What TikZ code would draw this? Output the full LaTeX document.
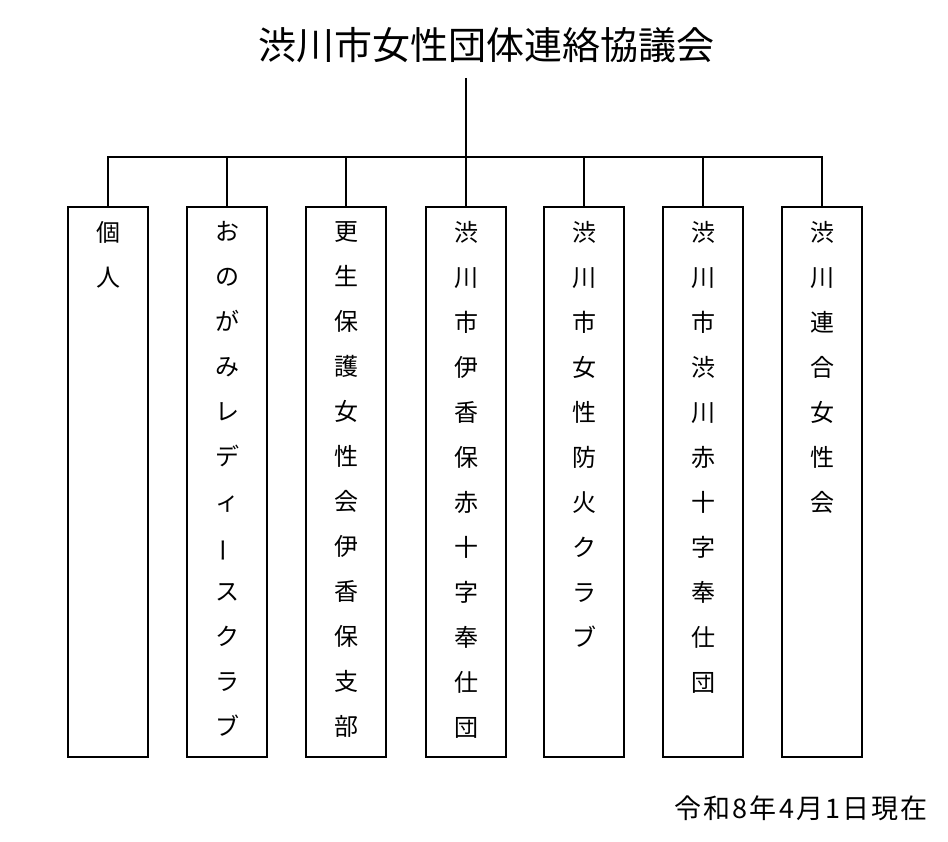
\documentclass[tikz,border=0pt]{standalone}
\usepackage{fontspec}
\setmainfont{Noto Sans CJK JP}
\usetikzlibrary{calc,positioning}
\tikzset{orgbox/.style={draw, line width=2pt, minimum width=80pt, minimum height=550pt, inner sep=0pt},
  lbl/.style={anchor=north, align=center, inner sep=0pt, font=\fontsize{24}{45}\selectfont},
  link/.style={line width=2pt}}
\newcommand{\vbar}{\rotatebox[origin=c]{90}{ー}}

\begin{document}
\begin{tikzpicture}[x=1pt, y=-1pt]
  \useasboundingbox (0,0) rectangle (948,842);
  \node[font=\fontsize{38}{42}\selectfont, inner sep=0pt] (title) at (486,45) {渋川市女性団体連絡協議会};
  % member organisations
  \foreach \i/\x in {1/108, 2/227, 3/346, 4/466, 5/584, 6/703, 7/822}{
    \node[orgbox] (b\i) at (\x,482) {};}
  \node[lbl] (t1) at ($(b1.north)+(0,15)$) {個\\人};
  \node[lbl] (t2) at ($(b2.north)+(0,15)$) {お\\の\\が\\み\\レ\\デ\\ィ\\\vbar\\ス\\ク\\ラ\\ブ};
  \node[lbl] (t3) at ($(b3.north)+(0,15)$) {更\\生\\保\\護\\女\\性\\会\\伊\\香\\保\\支\\部};
  \node[lbl] (t4) at ($(b4.north)+(0,15)$) {渋\\川\\市\\伊\\香\\保\\赤\\十\\字\\奉\\仕\\団};
  \node[lbl] (t5) at ($(b5.north)+(0,15)$) {渋\\川\\市\\女\\性\\防\\火\\ク\\ラ\\ブ};
  \node[lbl] (t6) at ($(b6.north)+(0,15)$) {渋\\川\\市\\渋\\川\\赤\\十\\字\\奉\\仕\\団};
  \node[lbl] (t7) at ($(b7.north)+(0,15)$) {渋\\川\\連\\合\\女\\性\\会};
  % tree lines
  \coordinate (root) at (466,78);
  \coordinate (bar) at (466,157);
  \draw[link] (root) -- (bar);
  \draw[link] (b1.north) -- (b1.north |- bar) -- (b7.north |- bar) -- (b7.north);
  \foreach \i in {2,...,6}{\draw[link] (b\i.north) -- (b\i.north |- bar);}
  \node[font=\fontsize{27}{30}\selectfont\addfontfeature{LetterSpace=8}, anchor=east, inner sep=0pt] (date) at (928,808) {令和8年4月1日現在};
\end{tikzpicture}
\end{document}
